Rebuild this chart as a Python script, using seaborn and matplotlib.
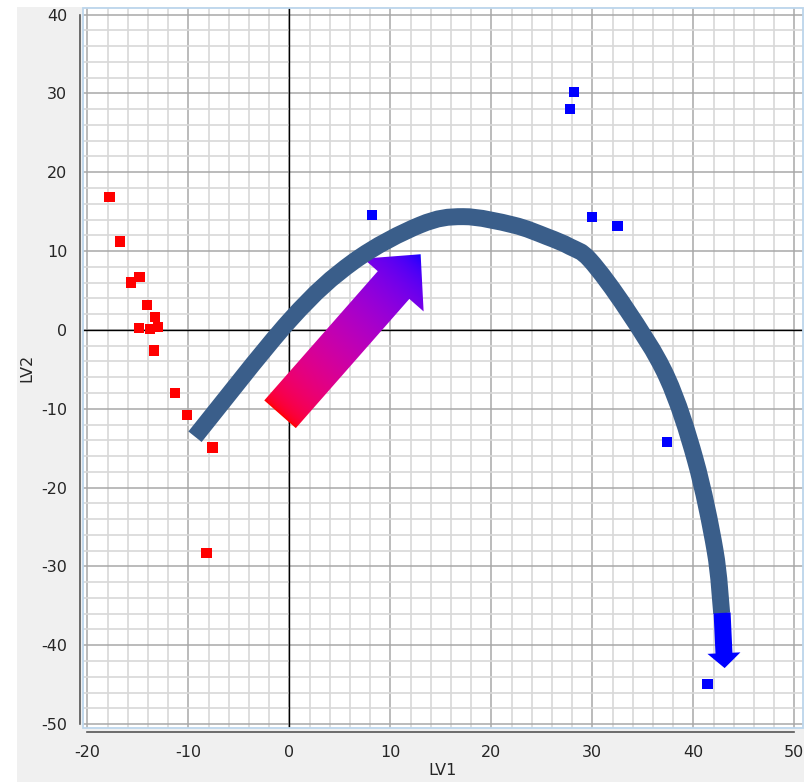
import numpy as np
import pandas as pd
import matplotlib
matplotlib.use("Agg")
import matplotlib.pyplot as plt
import seaborn as sns
from matplotlib.patches import Polygon, Rectangle, PathPatch
from matplotlib.path import Path
from matplotlib.colors import ListedColormap

# score values
red_x = [-17.8, -16.8, -14.85, -15.7, -14.1, -13.3, -13.0, -13.8, -14.9, -13.4, -11.3, -10.1, -7.6, -8.2]
red_y = [16.9, 11.2, 6.7, 6.0, 3.2, 1.6, 0.4, 0.1, 0.25, -2.6, -8.0, -10.8, -14.9, -28.3]
blue_x = [28.2, 27.8, 30.0, 32.5, 8.2, 37.4, 41.4]
blue_y = [30.2, 28.0, 14.3, 13.2, 14.6, -14.2, -44.9]

# the hand drawn trend curve (points it passes through)
curve_x = [-9.34, 0.07, 6.34, 12.94, 17.23, 22.18, 25.49, 27.79, 29.77, 33.4, 37.37, 40.2, 42.15, 42.81]
curve_y = [-13.55, 1.26, 8.65, 13.31, 14.37, 13.31, 11.83, 10.56, 8.87, 2.6, -5.94, -16.5, -27.97, -35.96]

# arrows: (tail, tip) in data units
grad_arrow = [(-0.92, -10.7), (13.0, 9.6)]
end_arrow = [(42.85, -35.9), (43.1, -42.9)]

df = pd.DataFrame({
    "LV1": red_x + blue_x,
    "LV2": red_y + blue_y,
    "group": ["a"] * len(red_x) + ["b"] * len(blue_x),
})

sns.set_style("white")
plt.rcParams['font.family'] = ['DejaVu Sans']
plt.rcParams['axes.unicode_minus'] = False

W, H = 812, 782
fig = plt.figure(figsize=(W / 100, H / 100), dpi=100)
fig.patch.set_facecolor("white")
fig.add_artist(Rectangle((17 / W, 0), (804 - 17) / W, 1 - 7 / H, transform=fig.transFigure,
                         facecolor="#f0f0f0", edgecolor="none", zorder=0))

ax = fig.add_axes([83 / W, 1 - 728 / H, (803 - 83) / W, (728 - 8.3) / H])
ax.set_facecolor("white")
ax.set_xlim(-20.43, 50.86)
ax.set_ylim(-50.5, 40.8)

ax.set_xticks(np.arange(-20, 51, 10))
ax.set_yticks(np.arange(-50, 41, 10))
ax.set_xticks(np.arange(-20, 51, 2), minor=True)
ax.set_yticks(np.arange(-50, 41, 2), minor=True)
ax.grid(True, which="major", color="#a8a8a8", lw=1.1, zorder=0)
ax.grid(True, which="minor", color="#d8d8d8", lw=1.2, zorder=0)
ax.set_axisbelow(True)
ax.tick_params(which="minor", length=0)
ax.tick_params(which="major", length=3.6, width=1, color="#555555", labelsize=11.5, pad=5.5)

for s in ["top", "right"]:
    ax.spines[s].set_visible(False)
ax.spines["left"].set_position(("outward", 2.2))
ax.spines["bottom"].set_position(("outward", 3))
ax.spines["left"].set_bounds(-50, 40)
ax.spines["bottom"].set_bounds(-20, 50)
for s in ["left", "bottom"]:
    ax.spines[s].set_color("#555555")
    ax.spines[s].set_linewidth(1.2)
ax.add_patch(Rectangle((0, 0), 1, 1, transform=ax.transAxes, fill=False,
                       edgecolor="#bcd6ec", lw=1.3, clip_on=False, zorder=5))

ax.axhline(0, color="black", lw=1, zorder=1)
ax.axvline(0, color="black", lw=1, zorder=1)

sns.scatterplot(data=df, x="LV1", y="LV2", hue="group", palette={"a": "#ff0000", "b": "#0000ff"},
                marker="s", s=55, linewidth=0, legend=False, ax=ax, zorder=3)

ax.set_xlabel("LV1", fontsize=11.5, labelpad=2.5)
ax.set_ylabel("LV2", fontsize=11.5, labelpad=5)


def arrow_poly(tail, tip, shaft_w, head_w, head_len):
    # build arrow outline in display pixels, return it in data units
    p0 = ax.transData.transform(tail)
    p1 = ax.transData.transform(tip)
    d = p1 - p0
    L = np.hypot(*d)
    u = d / L
    n = np.array([-u[1], u[0]])
    b = p1 - u * head_len
    pts = [p0 + n * shaft_w / 2, b + n * shaft_w / 2, b + n * head_w / 2, p1,
           b - n * head_w / 2, b - n * shaft_w / 2, p0 - n * shaft_w / 2]
    return ax.transData.inverted().transform(np.array(pts)), p0, p1


# gradient arrow, red to blue blended in linear light
pts, p0, p1 = arrow_poly(grad_arrow[0], grad_arrow[1], 42, 80, 41)
poly = Polygon(pts, closed=True, facecolor="none", edgecolor="none", zorder=4)
ax.add_patch(poly)
x0, x1 = pts[:, 0].min(), pts[:, 0].max()
y0, y1 = pts[:, 1].min(), pts[:, 1].max()
gx, gy = np.meshgrid(np.linspace(x0, x1, 240), np.linspace(y0, y1, 240))
disp = ax.transData.transform(np.column_stack([gx.ravel(), gy.ravel()]))
u = (p1 - p0) / np.hypot(*(p1 - p0))
t = ((disp - p0) @ u) / np.hypot(*(p1 - p0))
t = np.clip(t, 0, 1).reshape(gx.shape)
ramp = np.linspace(0, 1, 256)
cmap = ListedColormap(np.column_stack([(1 - ramp) ** (1 / 2.2), np.zeros(256), ramp ** (1 / 2.2)]))
im = ax.imshow(t, extent=[x0, x1, y0, y1], origin="lower", cmap=cmap, vmin=0, vmax=1,
               aspect="auto", zorder=4, interpolation="bilinear")
im.set_clip_path(poly)

# trend curve as a smooth bezier through the read points (built in pixel space)
P = ax.transData.transform(np.column_stack([curve_x, curve_y]))
verts = [P[0]]
codes = [Path.MOVETO]
for i in range(len(P) - 1):
    pm = P[i - 1] if i > 0 else P[i]
    pn = P[i + 2] if i + 2 < len(P) else P[i + 1]
    c1 = P[i] + (P[i + 1] - pm) / 6
    c2 = P[i + 1] - (pn - P[i]) / 6
    verts += [c1, c2, P[i + 1]]
    codes += [Path.CURVE4] * 3
verts = ax.transData.inverted().transform(np.array(verts))
ax.add_patch(PathPatch(Path(verts, codes), facecolor="none", edgecolor="#3a5e8a", lw=12.2,
                       capstyle="butt", joinstyle="round", zorder=5))

# blue arrow at curve end
pts2, _, _ = arrow_poly(end_arrow[0], end_arrow[1], 17, 33, 15)
ax.add_patch(Polygon(pts2, closed=True, facecolor="#0000ff", edgecolor="none", zorder=6))

ax.set_xlim(-20.43, 50.86)
ax.set_ylim(-50.5, 40.8)

fig.savefig("out.png", dpi=100)
